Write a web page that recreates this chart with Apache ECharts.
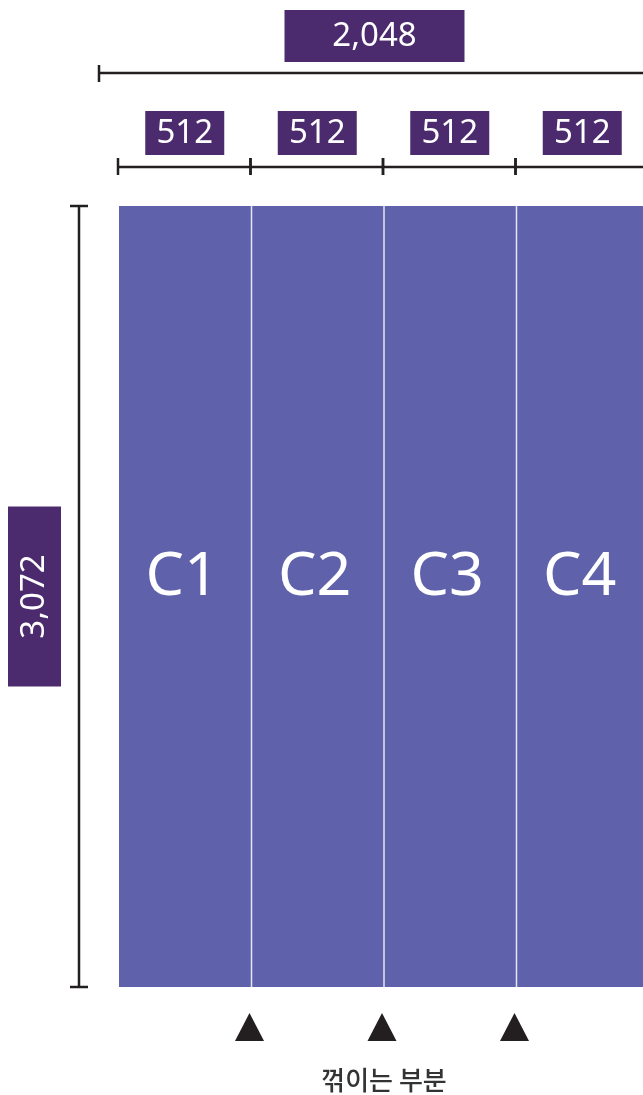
<!DOCTYPE html>
<html>
<head>
<meta charset="utf-8">
<script src="https://cdn.jsdelivr.net/npm/echarts@6/dist/echarts.min.js"></script>
<style>
html,body{margin:0;padding:0;background:#fff;}
#chart{width:643px;height:1095px;}
</style>
</head>
<body>
<div id="chart"></div>
<script>
// ---- data ----
const columns = ['C1', 'C2', 'C3', 'C4'];
const columnWidths = [512, 512, 512, 512];
const totalWidth = 2048;
const sheetHeight = 3072;
const foldPoints = [512, 1024, 1536];
const widthLabels = ['512', '512', '512', '512'];
const totalWidthLabel = '2,048';
const heightLabel = '3,072';
const foldLabel = '꺾이는 부분';

// ---- build ----
const colData = [];
let acc = 0;
columns.forEach((c, i) => {
  colData.push([acc, acc + columnWidths[i], c, widthLabels[i], i]);
  acc += columnWidths[i];
});

const BLUE = '#5f62aa';
const PURPLE = '#4b2a6e';
const INK = '#231f20';
const FONT = "'Noto Sans', sans-serif";

const chart = echarts.init(document.getElementById('chart'), null, {renderer: 'canvas'});

function lineEl(x1, y1, x2, y2, w, color) {
  return {type: 'line', shape: {x1, y1, x2, y2}, style: {stroke: color || INK, lineWidth: w}};
}

const option = {
  animation: false,
  backgroundColor: '#ffffff',
  grid: {left: 119, width: 530, top: 206, height: 781, containLabel: false, outerBoundsMode: 'none'},
  xAxis: {type: 'value', min: 0, max: totalWidth, show: false},
  yAxis: {type: 'value', min: 0, max: sheetHeight, show: false},
  series: [
    // columns
    {
      type: 'custom',
      data: colData,
      renderItem: function (params, api) {
        const x0 = api.value(0), x1 = api.value(1);
        const p0 = api.coord([x0, sheetHeight]);
        const p1 = api.coord([x1, 0]);
        const children = [
          {type: 'rect', shape: {x: p0[0], y: p0[1], width: p1[0] - p0[0], height: p1[1] - p0[1]},
           style: {fill: BLUE}},
          {type: 'text', x: (p0[0] + p1[0]) / 2 - 3, y: (p0[1] + p1[1]) / 2 - 19,
           style: {text: api.value(2), fill: '#ffffff', font: '400 61px ' + FONT, align: 'center', verticalAlign: 'middle'}}
        ];
        if (api.value(4) > 0) {
          children.push(lineEl(p0[0], p0[1], p0[0], p1[1], 1.5, '#e4e4f2'));
        }
        return {type: 'group', children};
      }
    },
    // segment dimension labels
    {
      type: 'custom',
      data: colData,
      renderItem: function (params, api) {
        const x0 = api.value(0), x1 = api.value(1);
        const p0 = api.coord([x0, sheetHeight]);
        const p1 = api.coord([x1, sheetHeight]);
        const top = p0[1];
        const ly = top - 39;
        const mid = (p0[0] + p1[0]) / 2;
        const children = [
          lineEl(p0[0] - 1, ly, p1[0], ly, 2.5),
          lineEl(p0[0] - 1, top - 48, p0[0] - 1, top - 31, 2.5),
          lineEl(p1[0] - 1, top - 48, p1[0] - 1, top - 31, 2.5),
          {type: 'rect', shape: {x: mid - 40, y: top - 95, width: 79, height: 44}, style: {fill: PURPLE}},
          {type: 'text', x: mid - 0.5, y: top - 72, style: {text: api.value(3), fill: '#ffffff', font: '400 33px ' + FONT, align: 'center', verticalAlign: 'middle'}}
        ];
        return {type: 'group', children};
      }
    },
    // total width dimension
    {
      type: 'custom',
      data: [[0, totalWidth]],
      renderItem: function (params, api) {
        const p0 = api.coord([api.value(0), sheetHeight]);
        const p1 = api.coord([api.value(1), sheetHeight]);
        const top = p0[1];
        const xs = p0[0] - 20, xe = p1[0] + 1;
        const ly = top - 133;
        const mid = (xs + xe) / 2;
        return {type: 'group', children: [
          lineEl(xs, ly, xe, ly, 2.5),
          lineEl(xs, top - 141, xs, top - 124, 2.5),
          {type: 'rect', shape: {x: mid - 90, y: top - 196, width: 180, height: 52}, style: {fill: PURPLE}},
          {type: 'text', x: mid, y: top - 169, style: {text: totalWidthLabel, fill: '#ffffff', font: '400 33px ' + FONT, align: 'center', verticalAlign: 'middle'}}
        ]};
      }
    },
    // height dimension
    {
      type: 'custom',
      data: [[0, sheetHeight]],
      renderItem: function (params, api) {
        const pb = api.coord([0, api.value(0)]);
        const pt = api.coord([0, api.value(1)]);
        const left = pb[0];
        const lx = left - 40;
        const mid = (pb[1] + pt[1]) / 2;
        return {type: 'group', children: [
          lineEl(lx, pt[1], lx, pb[1], 2.5),
          lineEl(left - 49, pt[1], left - 31, pt[1], 2.5),
          lineEl(left - 49, pb[1], left - 31, pb[1], 2.5),
          {type: 'rect', shape: {x: left - 111, y: mid - 90, width: 53, height: 180}, style: {fill: PURPLE}},
          {type: 'text', x: left - 84, y: mid, rotation: Math.PI / 2,
           style: {text: heightLabel, fill: '#ffffff', font: '400 33px ' + FONT, align: 'center', verticalAlign: 'middle'}}
        ]};
      }
    },
    // fold markers
    {
      type: 'custom',
      data: foldPoints.map(v => [v]),
      renderItem: function (params, api) {
        const p = api.coord([api.value(0), 0]);
        const cx = p[0] - 2, by = p[1];
        return {type: 'polygon', shape: {points: [[cx, by + 26], [cx + 14.5, by + 54], [cx - 14.5, by + 54]]},
                style: {fill: INK}};
      }
    },
    // fold label
    {
      type: 'custom',
      data: [[foldPoints[1]]],
      renderItem: function (params, api) {
        const p = api.coord([api.value(0), 0]);
        return {type: 'text', x: p[0], y: p[1] + 93,
                style: {text: foldLabel, fill: '#333333', font: "500 26px 'Noto Sans CJK KR', sans-serif", align: 'center', verticalAlign: 'middle'}};
      }
    }
  ]
};
chart.setOption(option);
</script>
</body>
</html>
